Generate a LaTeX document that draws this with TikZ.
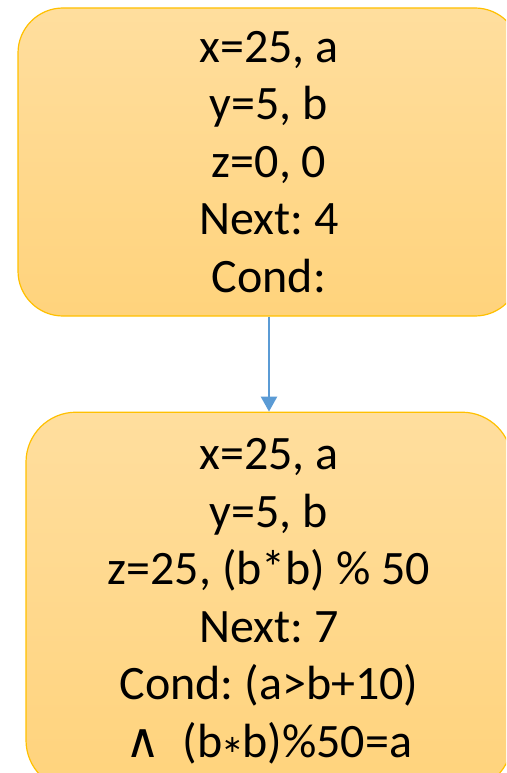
\documentclass[tikz,border=0pt]{standalone}
\usepackage{fontspec}
\setmainfont{Carlito}
\newfontfamily\symfont{DejaVu Sans}
\usepackage{tikz}
\usetikzlibrary{arrows.meta,positioning}
\definecolor{stfill}{HTML}{FFDE9E}
\definecolor{stfillb}{HTML}{FFD37C}
\definecolor{stedge}{HTML}{FFC000}
\definecolor{flowblue}{HTML}{5B9BD5}
\newcommand{\opstar}{\raisebox{5pt}{\fontsize{24pt}{24pt}\symfont ∗}}
\tikzset{
  state/.style={rectangle,rounded corners=#1,draw=stedge,line width=1.2pt,
    top color=stfill,bottom color=stfillb,text=black,align=center,
    font=\fontsize{48pt}{57.5pt}\selectfont\frenchspacing,inner sep=0pt},
  state/.default={45pt},
  flow/.style={-{Triangle[length=15pt,width=16pt]},line width=2.5pt,flowblue},
}
\begin{document}
\begin{tikzpicture}[x=1pt,y=1pt]
  \useasboundingbox (0,0) rectangle (506,-773);
  \clip (0,0) rectangle (506,-773);
  \node[state,minimum width=502pt,minimum height=308pt] (s1) at (269,-162) {
    x=25, a\\y=5, b\\z=0, 0\\Next: 4\\Cond:};
  \node[state=50pt,minimum width=486pt,minimum height=378pt,below=95pt of s1] (s2) {
    x=25, a\\y=5, b\\z=25, (b*b) \% 50\\Next: 7\\Cond: (a>b+10)\\
    {\symfont ∧}\ \ (b\opstar b)\%50=a};
  \draw[flow] (s1) -- (s2);
\end{tikzpicture}
\end{document}
